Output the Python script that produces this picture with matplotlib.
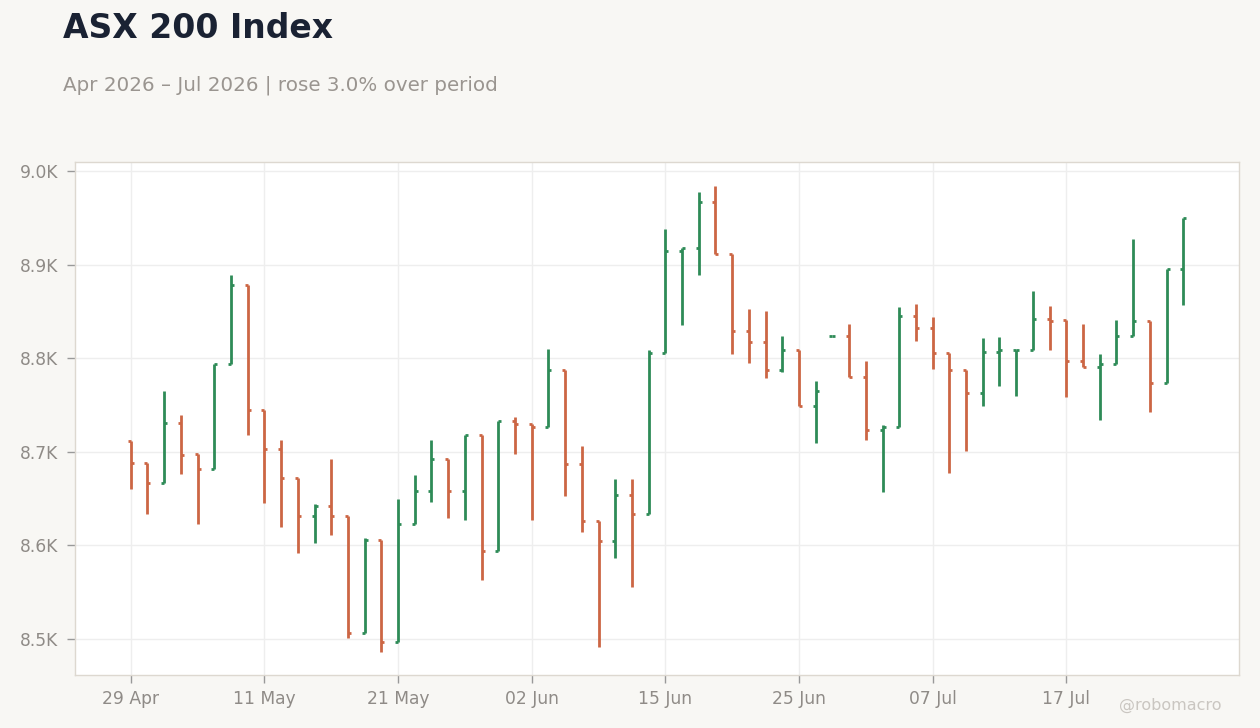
import matplotlib
matplotlib.use("Agg")
import matplotlib.pyplot as plt
from matplotlib.ticker import FuncFormatter

# ASX 200 daily OHLC, 29 Apr - 28 Jul 2026 (trading days only)
opens = [8712, 8688, 8667, 8731, 8698, 8682, 8794, 8878, 8745, 8703,
         8672, 8631, 8642, 8631, 8506, 8606, 8497, 8623, 8658, 8692,
         8658, 8718, 8594, 8733, 8730, 8726, 8787, 8687, 8626, 8605,
         8654, 8633, 8805, 8915, 8918, 8967, 8911, 8829, 8817, 8787,
         8809, 8749, 8824, 8824, 8780, 8723, 8726, 8845, 8832, 8805,
         8787, 8763, 8807, 8809, 8809, 8842, 8841, 8797, 8791, 8794,
         8824, 8840, 8773, 8895]
highs = [8712, 8688, 8765, 8739, 8698, 8794, 8889, 8878, 8745, 8713,
         8672, 8644, 8692, 8631, 8608, 8606, 8650, 8675, 8713, 8692,
         8718, 8718, 8733, 8737, 8730, 8810, 8787, 8706, 8626, 8671,
         8671, 8809, 8938, 8918, 8978, 8984, 8911, 8853, 8850, 8824,
         8809, 8776, 8824, 8837, 8797, 8729, 8855, 8858, 8844, 8805,
         8787, 8822, 8823, 8809, 8872, 8856, 8841, 8836, 8804, 8841,
         8927, 8840, 8895, 8950]
lows = [8660, 8634, 8667, 8676, 8623, 8682, 8794, 8718, 8645, 8620,
        8592, 8603, 8611, 8501, 8506, 8486, 8497, 8623, 8646, 8629,
        8627, 8563, 8594, 8698, 8627, 8726, 8653, 8614, 8491, 8586,
        8556, 8633, 8805, 8835, 8889, 8911, 8804, 8795, 8779, 8785,
        8749, 8709, 8824, 8780, 8713, 8657, 8726, 8818, 8788, 8677,
        8701, 8749, 8770, 8760, 8809, 8809, 8759, 8791, 8734, 8794,
        8824, 8742, 8773, 8857]
closes = [8688, 8667, 8731, 8697, 8682, 8794, 8878, 8745, 8703, 8672,
          8631, 8642, 8631, 8506, 8606, 8497, 8623, 8658, 8692, 8658,
          8718, 8594, 8733, 8730, 8726, 8787, 8687, 8626, 8605, 8654,
          8633, 8805, 8915, 8918, 8967, 8911, 8829, 8817, 8787, 8809,
          8749, 8765, 8824, 8780, 8723, 8726, 8845, 8832, 8805, 8787,
          8763, 8807, 8809, 8809, 8842, 8840, 8797, 8791, 8794, 8824,
          8840, 8773, 8895, 8950]

tick_idx = [0, 8, 16, 24, 32, 40, 48, 56]
tick_labels = ['29 Apr', '11 May', '21 May', '02 Jun', '15 Jun', '25 Jun', '07 Jul', '17 Jul']

UP = '#2e8b57'
DOWN = '#cc6644'
BG = '#f8f7f4'
GREY = '#8f8b87'

fig = plt.figure(figsize=(12.6, 7.28), dpi=100, facecolor=BG)
ax = fig.add_axes([75/1260, 1 - 675/728, (1239 - 75)/1260, (675 - 162)/728])
ax.set_facecolor('white')

n = len(opens)
xs = list(range(n))
colors = [UP if c >= o else DOWN for o, c in zip(opens, closes)]
w = 0.18
ax.vlines(xs, lows, highs, colors=colors, linewidth=2, zorder=3)
ax.hlines(opens, [x - w for x in xs], xs, colors=colors, linewidth=2, zorder=3)
ax.hlines(closes, xs, [x + w for x in xs], colors=colors, linewidth=2, zorder=3)

pad = 0.053 * (n - 1)
ax.set_xlim(-pad, n - 1 + pad)
ax.set_ylim(8461.5, 9009.6)
ax.set_yticks([8500, 8600, 8700, 8800, 8900, 9000])
ax.yaxis.set_major_formatter(FuncFormatter(lambda v, p: f'{v/1000:.1f}K'))
ax.set_xticks(tick_idx)
ax.set_xticklabels(tick_labels)

ax.grid(True, color='#eeeeee', linewidth=1, zorder=0)
ax.set_axisbelow(True)
for s in ax.spines.values():
    s.set_color('#ddd8d0')
    s.set_linewidth(1)
ax.tick_params(colors='#999999', labelcolor=GREY, labelsize=12.3, length=6, width=1)
ax.tick_params(axis='x', pad=5)
ax.tick_params(axis='y', pad=6)

fig.text(63/1260, 1 - 29/728, 'ASX 200 Index', fontsize=23.8, fontweight='bold',
         color='#1a2233', ha='left', va='center')
fig.text(63/1260, 1 - 85/728, 'Apr 2026 \u2013 Jul 2026 | rose 3.0% over period',
         fontsize=14.3, color='#9a9590', ha='left', va='center')
fig.text(1222/1260, 1 - 705/728, '@robomacro', fontsize=11.5, color='#cac6c1',
         ha='right', va='center')

fig.savefig('out.png', dpi=100, facecolor=BG)
